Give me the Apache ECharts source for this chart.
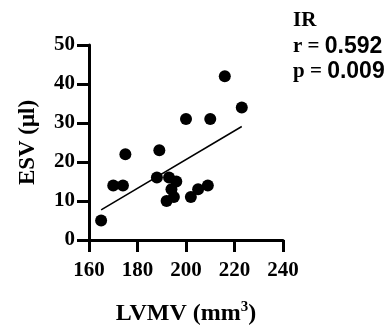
<!DOCTYPE html>
<html>
<head>
<meta charset="utf-8">
<script src="https://cdn.jsdelivr.net/npm/echarts@6/dist/echarts.min.js"></script>
<style>
  html, body { margin: 0; padding: 0; background: #fff; }
  #chart { width: 391px; height: 327px; }
</style>
</head>
<body>
<div id="chart"></div>
<script>
// IR group: LVMV vs ESV
const lvmv = [165, 170, 174, 175, 188, 189, 192, 193, 194, 195, 196, 200, 202, 205, 209, 210, 216, 223]
const esv = [5, 14, 14, 22, 16, 23, 10, 16, 13, 11, 15, 31, 11, 13, 14, 31, 42, 34]
// fit line end points
const fitX = [165, 223]
const fitY = [7.7, 29.1]
const xTicks = [160, 180, 200, 220, 240]
const yTicks = [0, 10, 20, 30, 40, 50]
const statLines = [['IR', ''], ['r = ', '0.592'], ['p = ', '0.009']]

const serif = 'Liberation Serif'
const sans = 'Liberation Sans'

const myChart = echarts.init(document.getElementById('chart'))

const axisCommon = {
  axisLine: { show: true, onZero: false, lineStyle: { color: '#000', width: 3 } },
  axisTick: { show: true, length: 12, lineStyle: { color: '#000', width: 3 } },
  splitLine: { show: false },
  nameLocation: 'middle',
  nameTextStyle: { fontFamily: serif, fontWeight: 'bold', fontSize: 22, color: '#000' }
}

const option = {
  animation: false,
  backgroundColor: '#fff',
  grid: { left: 89, right: 108, top: 45, bottom: 87, containLabel: false, outerBoundsMode: 'none' },
  xAxis: Object.assign({}, axisCommon, {
    type: 'value',
    min: xTicks[0],
    max: xTicks[xTicks.length - 1],
    interval: 20,
    name: 'LVMV (mm{sup|3})',
    nameGap: 60,
    nameTextStyle: Object.assign({}, axisCommon.nameTextStyle, {
      fontSize: 24,
      rich: {
        sup: { fontFamily: serif, fontWeight: 'bold', fontSize: 15, color: '#000', padding: [0, 0, 13, 0] }
      }
    }),
    axisLabel: { margin: 20, fontFamily: serif, fontWeight: 'bold', fontSize: 21, color: '#000' }
  }),
  yAxis: Object.assign({}, axisCommon, {
    type: 'value',
    min: yTicks[0],
    max: yTicks[yTicks.length - 1],
    interval: 10,
    name: 'ESV (μl)',
    nameGap: 49,
    nameTextStyle: Object.assign({}, axisCommon.nameTextStyle, { fontSize: 23 }),
    axisLabel: { margin: 14, fontFamily: serif, fontWeight: 'bold', fontSize: 21, color: '#000' }
  }),
  series: [
    {
      type: 'scatter',
      data: lvmv.map((v, i) => [v, esv[i]]),
      symbolSize: 12,
      itemStyle: { color: '#000', opacity: 1 }
    },
    {
      type: 'line',
      data: fitX.map((v, i) => [v, fitY[i]]),
      symbol: 'none',
      lineStyle: { color: '#000', width: 1.5 }
    }
  ],
  graphic: statLines.map((l, i) => ({
    type: 'text',
    left: 293,
    top: 10 + i * 25,
    style: {
      text: l[1] ? `{a|${l[0]}}{b|${l[1]}}` : `{a|${l[0]}}`,
      rich: {
        a: { fontFamily: serif, fontWeight: 'bold', fontSize: 21, fill: '#000' },
        b: { fontFamily: sans, fontWeight: 'bold', fontSize: 23, fill: '#000' }
      }
    }
  }))
}

myChart.setOption(option)
</script>
</body>
</html>
